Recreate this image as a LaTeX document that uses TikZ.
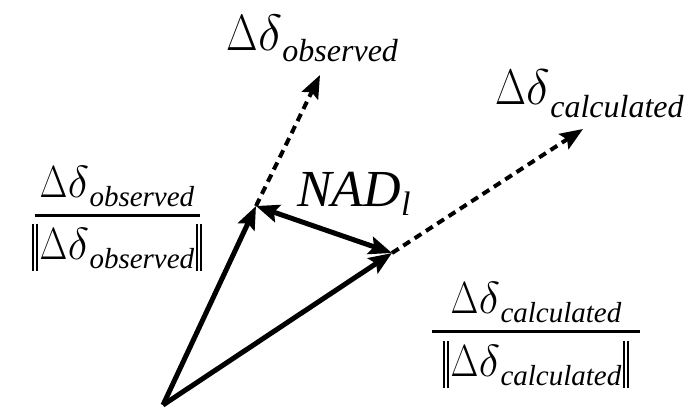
\RequirePackage{fix-cm}
\documentclass[tikz,border=0pt]{standalone}
\usepackage[no-math]{fontspec}
\usepackage{graphicx}
\setmainfont{Liberation Serif}
\usetikzlibrary{arrows.meta,calc}
% #1 main size, #2 subscript size, #3 lowering of subscript, #4 subscript text
\newcommand\dlab[4]{{\fontsize{#1}{#1}\selectfont\scalebox{0.8}[1]{$\Delta$}\kern0.01em$\delta$}\kern0.04em\raisebox{-#3}{\fontsize{#2}{#2}\selectfont\textit{#4}}}
\newcommand\dbar[2]{\rule[-#1]{1.8pt}{#2}\kern2.6pt\rule[-#1]{1.8pt}{#2}}
\tikzset{
  lab/.style={inner sep=0pt, outer sep=0pt},
  headtip/.tip={Stealth[length=23pt,width=18pt,inset=4pt]},
  vec/.style={line width=5pt, -headtip},
  dvec/.style={line width=4pt, dash pattern=on 8pt off 5.5pt, -headtip},
  dvec2/.style={line width=5pt, headtip-headtip},
  fracrule/.style={line width=3pt}
}
\begin{document}
\begin{tikzpicture}[x=1pt,y=-1pt]
\useasboundingbox (0,0) rectangle (684,407);
\coordinate (O) at (163,405);
\coordinate (A) at (256,206);
\coordinate (C) at (392,253);
\coordinate (Ot) at (320,75);
\coordinate (Ct) at (583,129);
\draw[dvec] (A) -- (Ot);
\draw[dvec] (C) -- (Ct);
\draw[vec] (O) -- (A);
\draw[vec] (O) -- (C);
\draw[dvec2] (A) -- (C);
% top labels
\node[lab, anchor=base west] (lobs) at (226,50) {\dlab{51pt}{32pt}{11pt}{observed}};
\node[lab, anchor=base west] (lcalc) at (495,104) {\dlab{50pt}{32pt}{13pt}{calculated}};
\node[lab, anchor=base west] (nad) at (297,206) {\fontsize{52pt}{52pt}\selectfont\textit{NAD}\raisebox{-9pt}{\fontsize{34pt}{34pt}\selectfont\textit{l}}};
% left fraction
\node[lab, anchor=base] (fon) at (117,197) {\dlab{45pt}{29pt}{9pt}{observed}};
\draw[fracrule] (35,215) -- (200,215);
\node[lab, anchor=base] (fod) at (117,259) {\dbar{12pt}{47pt}\kern1.5pt\dlab{45pt}{29pt}{9pt}{observed}\kern1.5pt\dbar{12pt}{47pt}};
% right fraction
\node[lab, anchor=base] (fcn) at (536,313) {\dlab{45pt}{29pt}{9pt}{calculated}};
\draw[fracrule] (432,331) -- (640,331);
\node[lab, anchor=base] (fcd) at (536,376) {\dbar{12pt}{47pt}\kern1.5pt\dlab{45pt}{29pt}{9pt}{calculated}\kern1.5pt\dbar{12pt}{47pt}};
\end{tikzpicture}
\end{document}
